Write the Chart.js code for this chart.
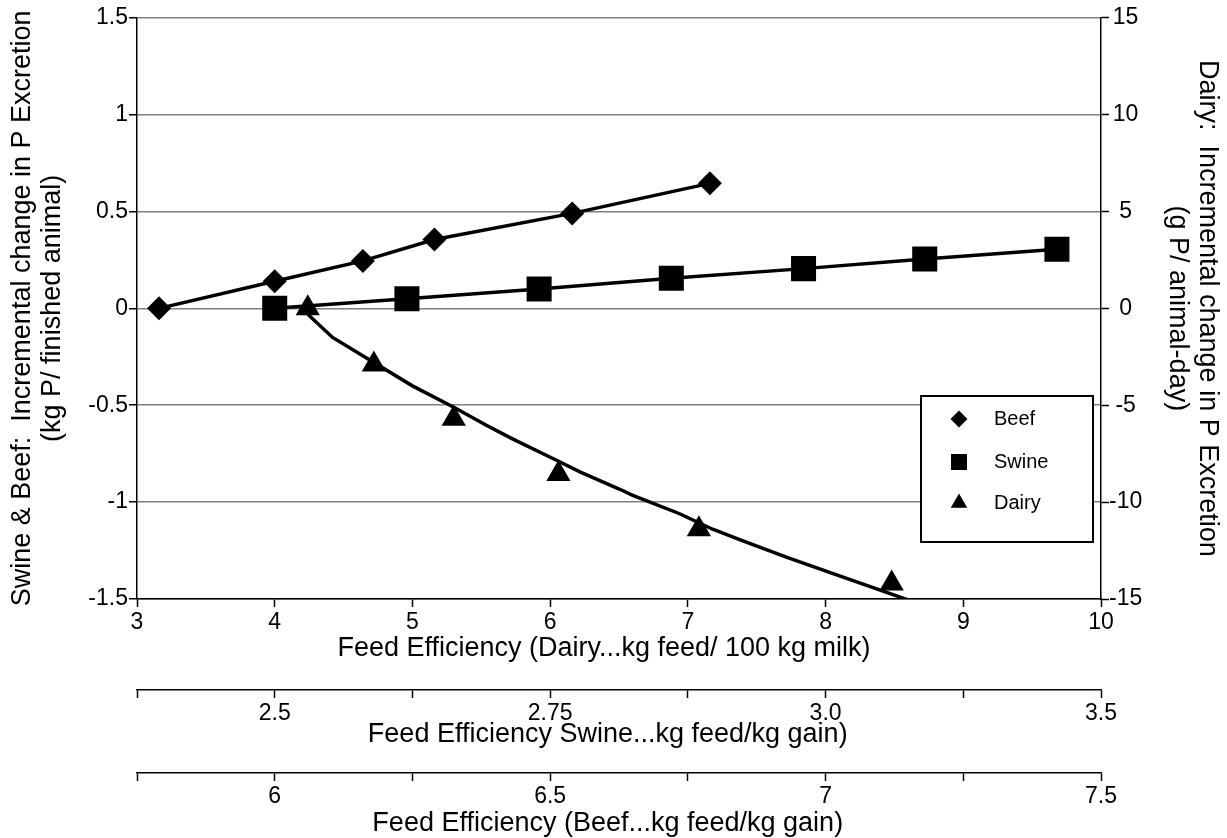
<!DOCTYPE html>
<html>
<head>
<meta charset="utf-8">
<script src="https://cdn.jsdelivr.net/npm/chart.js@4.4.1/dist/chart.umd.min.js"></script>
<style>
  body { margin: 0; background: #fff; }
  #wrap { width: 1227px; height: 838px; position: relative; }
</style>
</head>
<body>
<div id="wrap"><canvas id="chart"></canvas></div>
<script>
// beef: feed efficiency (kg feed/kg gain) vs kg P / finished animal
const beefFeed = [5.79, 6.0, 6.16, 6.29, 6.54, 6.79];
const beefP = [0, 0.14, 0.245, 0.355, 0.49, 0.645];

// swine: feed efficiency (kg feed/kg gain) vs kg P / finished animal
const swineFeed = [2.5, 2.62, 2.74, 2.86, 2.98, 3.09, 3.21];
const swineP = [0, 0.05, 0.1, 0.155, 0.205, 0.255, 0.305];

// dairy: kg feed / 100 kg milk vs g P / animal-day
const dairyFeed = [4.24, 4.72, 5.30, 6.06, 7.08, 8.48];
const dairyP = [0, -2.9, -5.7, -8.55, -11.4, -14.2];

// dairy fitted curve as drawn
const dairyFitFeed = [4.24, 4.42, 5.0, 5.3, 5.54, 5.73, 6.05, 6.22, 6.51, 6.6, 6.94, 7.18, 7.4, 7.72, 8.06, 8.2, 8.64];
const dairyFitP = [-0.3, -1.5, -4.0, -5.1, -6.05, -6.75, -7.85, -8.45, -9.35, -9.65, -10.6, -11.4, -12.0, -12.85, -13.7, -14.05, -15.15];

// tick values and labels of the two extra feed-efficiency axes
const swineTickValues = [2.375, 2.5, 2.625, 2.75, 2.875, 3.0, 3.125, 3.25];
const swineTickLabels = ['', '2.5', '', '2.75', '', '3.0', '', '3.5'];
const beefTickValues = [5.75, 6.0, 6.25, 6.5, 6.75, 7.0, 7.25, 7.5];
const beefTickLabels = ['', '6', '', '6.5', '', '7', '', '7.5'];

const pts = (xs, ys) => xs.map((x, i) => ({ x: x, y: ys[i] }));

Chart.defaults.font.family = '"Liberation Sans", Arial, sans-serif';
Chart.defaults.color = '#000';

const tickFont = { size: 23 };
const titleFont = { size: 27, lineHeight: 1.1 };

const legendBox = {
  id: 'legendBox',
  afterDatasetsDraw(chart) {
    const ctx = chart.ctx;
    const items = [
      { text: 'Beef', style: 'rectRot', r: 8.5 },
      { text: 'Swine', style: 'rect', r: 11.3 },
      { text: 'Dairy', style: 'triangle', r: 9.5 },
    ];
    const rowY = [419, 462, 503];
    ctx.save();
    ctx.fillStyle = '#fff';
    ctx.fillRect(921, 396, 172, 146);
    ctx.lineWidth = 2;
    ctx.strokeStyle = '#000';
    ctx.strokeRect(921, 396, 172, 146);
    ctx.font = '20px "Liberation Sans", Arial, sans-serif';
    ctx.textBaseline = 'middle';
    ctx.textAlign = 'left';
    items.forEach((it, i) => {
      ctx.fillStyle = '#000';
      Chart.helpers.drawPoint(ctx, { pointStyle: it.style, radius: it.r, rotation: 0, borderWidth: 0 }, 959, rowY[i]);
      ctx.fillText(it.text, 994, rowY[i]);
    });
    ctx.restore();
  }
};

const extraAxis = (values, labels, weight, title, pad, h) => ({
  type: 'linear', position: 'bottom', weight: weight,
  min: values[0], max: values[values.length - 1],
  afterBuildTicks: (s) => { s.ticks = values.map((v) => ({ value: v })); },
  ticks: { font: tickFont, padding: 2, maxRotation: 0, autoSkip: false,
    callback: (v, i) => labels[i] },
  grid: { drawOnChartArea: false, tickLength: 8, tickColor: '#000', tickWidth: 1.5 },
  border: { color: '#000', width: 1.5 },
  title: { display: true, text: title, font: titleFont, padding: { top: 0, bottom: pad } },
  afterFit: (s) => { s.height = h; },
});

new Chart(document.getElementById('chart'), {
  type: 'scatter',
  data: {
    datasets: [
      {
        label: 'Beef',
        data: pts(beefFeed, beefP),
        xAxisID: 'xBeef', yAxisID: 'y',
        showLine: true,
        borderColor: '#000', borderWidth: 3.5,
        pointStyle: 'rectRot', pointRadius: 12,
        pointBackgroundColor: '#000', pointBorderWidth: 0,
      },
      {
        label: 'Swine',
        data: pts(swineFeed, swineP),
        xAxisID: 'xSwine', yAxisID: 'y',
        showLine: true,
        borderColor: '#000', borderWidth: 3.5,
        pointStyle: 'rect', pointRadius: 17.7,
        pointBackgroundColor: '#000', pointBorderWidth: 0,
      },
      {
        label: 'Dairy',
        data: pts(dairyFeed, dairyP),
        xAxisID: 'x', yAxisID: 'y2',
        showLine: false,
        pointStyle: 'triangle', pointRadius: 14,
        pointBackgroundColor: '#000', pointBorderWidth: 0,
      },
      {
        label: 'Dairy fit',
        data: pts(dairyFitFeed, dairyFitP),
        xAxisID: 'x', yAxisID: 'y2',
        showLine: true,
        borderColor: '#000', borderWidth: 3.5,
        pointRadius: 0,
      },
    ],
  },
  options: {
    responsive: true,
    maintainAspectRatio: false,
    animation: false,
    layout: { padding: { top: 16, left: 0, right: 0, bottom: 0 } },
    plugins: { legend: { display: false }, tooltip: { enabled: false } },
    scales: {
      x: {
        type: 'linear', position: 'bottom', weight: 0,
        min: 3, max: 10,
        ticks: { stepSize: 1, font: tickFont, padding: 2, maxRotation: 0 },
        grid: { drawOnChartArea: false, tickLength: 8, tickColor: '#000', tickWidth: 1.5 },
        border: { color: '#000', width: 1.5 },
        // trailing blanks nudge the centred title a little to the left, as in the original
        title: { display: true, text: 'Feed Efficiency (Dairy...kg feed/ 100 kg milk)    ', font: titleFont, padding: { top: 0, bottom: 27 } },
        afterFit: (s) => { s.height = 91; },
      },
      xSwine: extraAxis(swineTickValues, swineTickLabels, 1, 'Feed Efficiency Swine...kg feed/kg gain)   ', 24, 83),
      xBeef: extraAxis(beefTickValues, beefTickLabels, 2, 'Feed Efficiency (Beef...kg feed/kg gain)   ', 0, 65),
      y: {
        type: 'linear', position: 'left',
        min: -1.5, max: 1.5,
        ticks: { stepSize: 0.5, font: tickFont, padding: 1, callback: (v) => String(v) },
        grid: { color: '#808080', lineWidth: 1.5, tickLength: 8, tickColor: '#000', tickWidth: 1.5 },
        border: { color: '#000', width: 1.5 },
        title: { display: true, text: ['Swine & Beef:  Incremental change in P Excretion', '(kg P/ finished animal)'], font: titleFont, padding: { top: 8, bottom: 0 } },
        afterFit: (s) => { s.width = 137; },
      },
      y2: {
        type: 'linear', position: 'right',
        min: -15, max: 15,
        ticks: { stepSize: 5, font: tickFont, padding: 0, crossAlign: 'center' },
        grid: { drawOnChartArea: false, tickLength: 8, tickColor: '#000', tickWidth: 1.5 },
        border: { color: '#000', width: 1.5 },
        title: { display: true, text: ['Dairy:  Incremental change in P Excretion', '(g P/ animal-day)'], font: titleFont, padding: { top: 5, bottom: 0 } },
        afterFit: (s) => { s.width = 126; },
      },
    },
  },
  plugins: [legendBox],
});
</script>
</body>
</html>
